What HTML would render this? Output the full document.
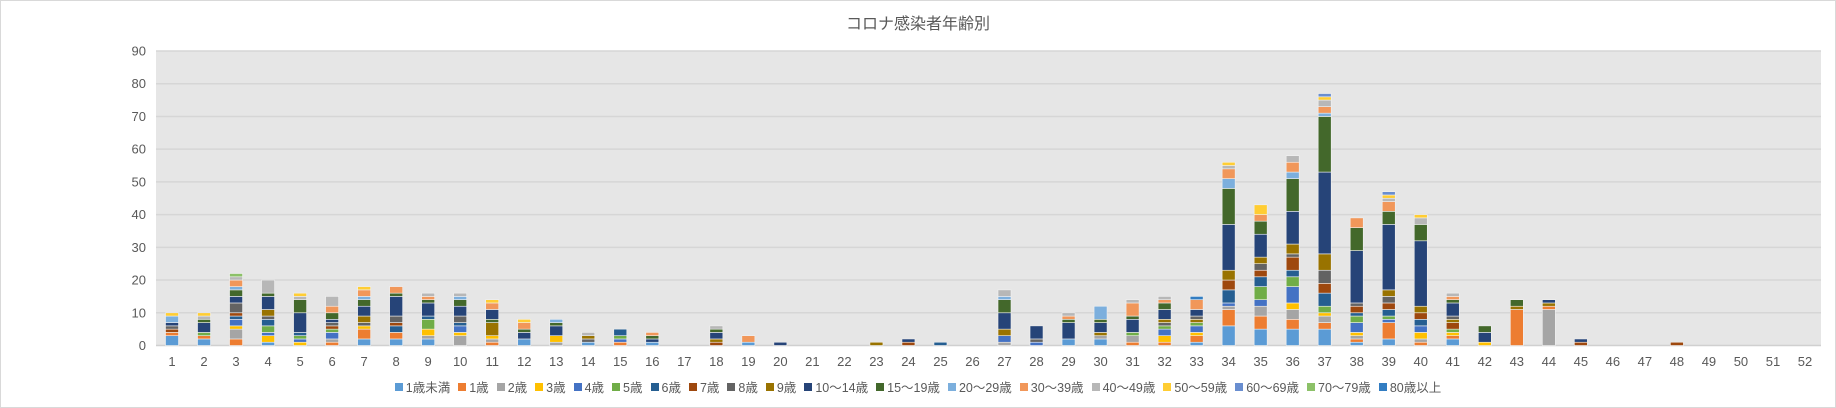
<!DOCTYPE html>
<html><head><meta charset="utf-8">
<style>
html,body{margin:0;padding:0;background:#fff;}
body{width:1836px;height:408px;overflow:hidden;position:relative;font-family:"Liberation Sans","Noto Sans CJK JP",sans-serif;}
#frame{position:absolute;left:0;top:0;width:1834px;height:406px;border:1px solid #d9d9d9;}
#title{position:absolute;top:10px;left:0;width:1836px;text-align:center;font-size:16px;color:#595959;}
#legend{position:absolute;top:377px;left:0;width:1836px;display:flex;justify-content:center;font-size:12.5px;color:#595959;}
#legend span{display:flex;align-items:center;margin:0 4px;}
#legend i{display:inline-block;width:8px;height:8px;margin-right:3px;}
</style></head><body>
<div id="frame"></div>
<div id="title">コロナ感染者年齢別</div>
<svg id="c" width="1836" height="408" style="position:absolute;left:0;top:0"></svg>
<div id="legend"></div>
<script>
var cols=["#5B9BD5","#ED7D31","#A5A5A5","#FFC000","#4472C4","#70AD47","#255E91","#9E480E","#636363","#997300","#264478","#43682B","#7CAFDD","#F1975A","#B7B7B7","#FFCD33","#698ED0","#8CC168","#327DC2"];
var names=["1歳未満","1歳","2歳","3歳","4歳","5歳","6歳","7歳","8歳","9歳","10～14歳","15～19歳","20～29歳","30～39歳","40～49歳","50～59歳","60～69歳","70～79歳","80歳以上"];
var D={
1:"0:3,1:1,7:1,8:1,10:1,12:2,15:1",
2:"0:2,1:1,5:1,10:3,11:1,14:1,15:1",
3:"1:2,2:3,3:1,4:2,6:1,7:1,8:3,10:2,11:2,12:1,13:2,14:1,17:1",
4:"0:1,3:2,4:1,5:2,6:2,8:1,9:2,10:4,11:1,14:4",
5:"3:1,4:1,5:1,6:1,10:6,11:4,14:1,15:1",
6:"1:1,2:1,4:2,5:1,7:1,8:1,10:1,11:2,13:2,14:3",
7:"0:2,1:3,3:1,8:1,9:2,10:3,11:2,12:1,13:2,15:1",
8:"0:2,1:2,6:2,7:1,8:2,10:6,11:1,13:2",
9:"0:2,2:1,3:2,5:3,6:1,10:4,11:1,13:1,14:1",
10:"2:3,3:1,4:2,6:1,8:2,10:3,11:2,12:1,14:1",
11:"1:1,2:1,3:1,9:4,11:1,10:3,13:2,15:1",
12:"0:2,10:2,11:1,13:2,15:1",
13:"2:1,3:2,10:3,11:1,12:1",
14:"0:1,8:1,9:1,14:1",
15:"1:1,4:1,5:1,6:2",
16:"0:1,10:1,11:1,13:1",
18:"7:1,9:1,10:2,11:1,14:1",
19:"0:1,13:2",
20:"10:1",23:"9:1",24:"7:1,10:1",25:"6:1",
27:"2:1,4:2,9:2,10:5,11:4,12:1,14:2",
28:"4:1,8:1,10:4",
29:"0:2,10:5,11:1,13:1,14:1",
30:"0:2,2:1,9:1,10:3,11:1,12:4",
31:"1:1,2:2,5:1,10:4,11:1,13:4,14:1",
32:"1:1,3:2,4:2,5:1,8:1,9:1,10:3,11:2,13:1,14:1",
33:"0:1,1:2,3:1,4:2,5:1,9:1,8:1,10:2,13:3,18:1",
34:"0:6,1:5,2:1,4:1,6:4,7:3,9:3,10:14,11:11,12:3,13:3,14:1,15:1",
35:"0:5,1:4,2:3,4:2,5:4,6:3,7:2,8:2,9:2,10:7,11:4,13:2,15:3",
36:"0:5,1:3,2:3,3:2,4:5,5:3,6:2,7:4,8:1,9:3,10:10,11:10,12:2,13:3,14:2",
37:"0:5,1:2,2:2,3:1,5:2,6:4,7:3,8:4,9:5,10:25,11:17,12:1,13:2,14:2,15:1,16:1",
38:"0:1,1:1,2:1,3:1,4:3,5:2,6:1,7:2,8:1,10:16,11:7,13:3",
39:"0:2,1:5,4:1,5:1,6:2,7:2,8:2,9:2,10:20,11:4,13:3,14:1,15:1,16:1",
40:"1:1,2:1,3:2,4:2,6:2,7:2,9:2,10:20,11:5,14:2,15:1",
41:"0:2,1:1,3:1,5:1,7:2,9:1,8:1,10:4,11:1,13:1,14:1",
42:"3:1,10:3,11:2",
43:"1:11,9:1,11:2",
44:"2:11,1:1,9:1,10:1",
45:"7:1,10:1",48:"7:1"};
var L=156,R=1821,T=51,B=345.5,k=(B-T)/90,cw=(R-L)/52,bw=13;
var s='<rect x="'+L+'" y="'+T+'" width="'+(R-L)+'" height="'+(B-T)+'" fill="#e6e6e6"/>';
for(var v=0;v<=90;v+=10){var y=B-v*k;
 s+='<line x1="'+L+'" x2="'+R+'" y1="'+y+'" y2="'+y+'" stroke="'+(v==0?'#d0d0d0':'#d6d6d6')+'" stroke-width="1.5"/>';
 s+='<text x="146" y="'+(y+4.5)+'" text-anchor="end" font-size="13" fill="#595959">'+v+'</text>';}
for(var w=1;w<=52;w++){var cx=L+(w-0.5)*cw;
 s+='<text x="'+cx+'" y="366" text-anchor="middle" font-size="13" fill="#595959">'+w+'</text>';
 if(D[w]){var acc=0;D[w].split(",").forEach(function(p){var a=p.split(":"),i=+a[0],n=+a[1];
  var y1=B-(acc+n)*k;s+='<rect x="'+(cx-bw/2)+'" y="'+y1+'" width="'+bw+'" height="'+(n*k)+'" fill="'+cols[i]+'" stroke="#f2f2f2" stroke-width="0.6"/>';acc+=n;});}}
document.getElementById("c").innerHTML=s;
var lg="";for(var i=0;i<names.length;i++)lg+='<span><i style="background:'+cols[i]+'"></i>'+names[i]+'</span>';
document.getElementById("legend").innerHTML=lg;
</script>
</body></html>
